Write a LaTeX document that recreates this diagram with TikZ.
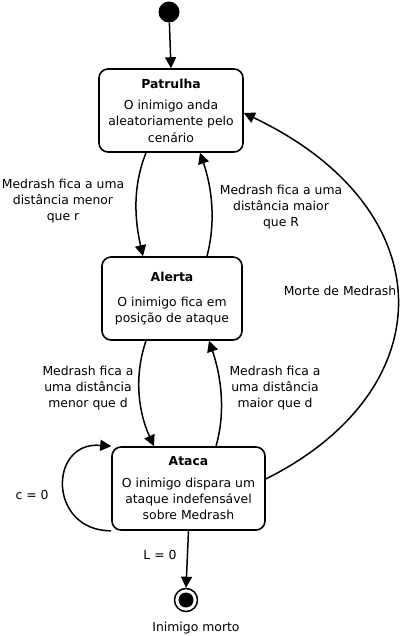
\documentclass[tikz,border=0pt]{standalone}
\usepackage{fontspec}
\setmainfont{DejaVu Sans}
\usetikzlibrary{arrows.meta,calc}
\begin{document}
\begin{tikzpicture}[x=1pt,y=-1pt,
  every node/.style={font=\fontsize{12.4}{16.3}\selectfont, align=center, inner sep=0pt},
  state/.style={draw, line width=1.6pt, rounded corners=9pt},
  conn/.style={line width=1.5pt, -{Triangle[length=11pt,width=11pt]}},
  lbl/.style={}]
\useasboundingbox (0,0) rectangle (400,636);
\node[circle, fill=black, minimum size=21pt] (init) at (169,12) {};
\node[state, minimum width=144pt, minimum height=83pt] (P) at (171,110.5)
  {\textbf{Patrulha}\\[5pt]O inimigo anda\\aleatoriamente pelo\\cenário};
\node[state, minimum width=140pt, minimum height=83pt] (A) at (172,298.5)
  {\textbf{Alerta}\\[9pt]O inimigo fica em\\posição de ataque};
\node[state, minimum width=153pt, minimum height=83pt] (T) at (188.5,488.5)
  {\textbf{Ataca}\\[5pt]O inimigo dispara um\\ataque indefensável\\sobre Medrash};
\node[circle, draw, line width=1.5pt, minimum size=23pt,
  path picture={\fill (path picture bounding box.center) circle (7.5pt);}] (F) at (186,600) {};

\node[lbl] (l1) at (63,201) {Medrash fica a uma\\distância menor\\que r};
\node[lbl] (l2) at (281,207) {Medrash fica a uma\\distância maior\\que R};
\node[lbl] (l3) at (340,291) {Morte de Medrash};
\node[lbl] (l4) at (88,388) {Medrash fica a\\uma distância\\menor que d};
\node[lbl] (l5) at (275,388) {Medrash fica a\\uma distância\\maior que d};
\node[lbl] (l6) at (32,495) {c = 0};
\node[lbl] (l7) at (160,555) {L = 0};
\node[lbl] (l8) at (196,628) {Inimigo morto};

\draw[conn] (init) -- (P.north);
\draw[conn] ([xshift=-25pt]P.south) .. controls +(-14,35) and +(-8,-35) .. ([xshift=-29pt]A.north);
\draw[conn] ([xshift=35pt]A.north) .. controls +(9,-35) and +(12,35) .. ([xshift=29pt]P.south);
\draw[conn] ([xshift=-26pt]A.south) .. controls +(-12,35) and +(-16,-35) .. ([xshift=-34.5pt]T.north);
\draw[conn] ([xshift=27.5pt]T.north) .. controls +(10,-35) and +(12,35) .. ([xshift=37pt]A.south);
\draw[conn] ([yshift=9.5pt]T.east) .. controls +(180,-90) and +(200,95) .. ([yshift=-2.5pt]P.east);
\draw[conn] (T.south west) .. controls (48,531) and (48,441) .. (T.north west);
\draw[conn] (T.south) -- (F.north);
\end{tikzpicture}
\end{document}
